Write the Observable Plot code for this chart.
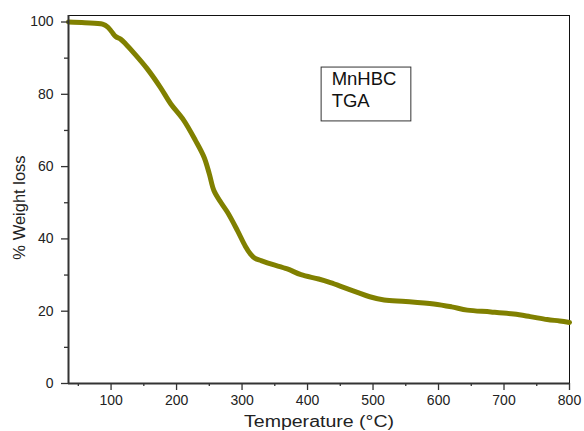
<!DOCTYPE html>
<html>
<head>
<meta charset="utf-8">
<script src="https://cdn.jsdelivr.net/npm/d3@7"></script>
<script src="https://cdn.jsdelivr.net/npm/@observablehq/plot@0.6"></script>
<style>
  html, body { margin: 0; padding: 0; background: #fff; }
  #chart svg { display: block; font-family: "Liberation Sans", Arial, sans-serif; }
</style>
</head>
<body>
<div id="chart"></div>
<script>
// Temperature (°C) and % weight remaining
const temperature = [35, 60, 87, 95, 101, 107, 115, 122, 135, 155, 175, 191, 211, 229, 242, 250, 257, 268, 278, 293, 305, 313, 320, 329, 345, 369, 390, 417, 435, 455, 476, 495, 517, 550, 593, 620, 644, 680, 715, 740, 766, 785, 800];
const weight      = [100, 99.8, 99.4, 98.6, 97.3, 96.0, 95.2, 94.0, 91.4, 87.1, 82.0, 77.4, 72.8, 67.2, 62.6, 58.0, 53.4, 50.0, 47.3, 42.3, 38.0, 35.8, 34.6, 34.0, 33.0, 31.7, 30.1, 28.9, 27.9, 26.6, 25.2, 24.0, 23.1, 22.7, 22.0, 21.2, 20.3, 19.8, 19.2, 18.5, 17.7, 17.3, 16.9];

const xMajorTicks = [100, 200, 300, 400, 500, 600, 700, 800];
const xMinorTicks = [50, 150, 250, 350, 450, 550, 650, 750];
const yMajorTicks = [0, 20, 40, 60, 80, 100];
const yMinorTicks = [10, 30, 50, 70, 90];

const xLabel = "Temperature (°C)";
const yLabel = "% Weight loss";
const legendLines = ["MnHBC", "TGA"];
const legendBox = {x1: 421.5, x2: 558.5, y1: 72.5, y2: 87.4};
const legendTextX = 436.8;
const legendTextY = [84.2, 78.2];

const data = temperature.map((t, i) => ({t, w: weight[i]}));

const axisColor = "#333";
const chart = Plot.plot({
  width: 584,
  height: 431,
  marginLeft: 68,
  marginRight: 15,
  marginTop: 15,
  marginBottom: 48,
  style: {fontFamily: "'Liberation Sans', Arial, sans-serif", color: "#222", background: "#fff"},
  x: {domain: [35, 800]},
  y: {domain: [0, 101.8]},
  marks: [
    Plot.frame({stroke: "#111", strokeWidth: 1}),
    Plot.line(data, {x: "t", y: "w", stroke: "#808000", strokeWidth: 5, curve: "catmull-rom"}),
    Plot.axisX(xMajorTicks, {tickSize: 7, tickPadding: 5, fontSize: 14, stroke: axisColor, strokeWidth: 1.3, label: null}),
    Plot.axisX(xMinorTicks, {tickSize: 3, tickFormat: () => "", stroke: axisColor, strokeWidth: 1.3, label: null}),
    Plot.axisY(yMajorTicks, {tickSize: 7, tickPadding: 8, fontSize: 14, stroke: axisColor, strokeWidth: 1.3, label: null}),
    Plot.axisY(yMinorTicks, {tickSize: 4, tickFormat: () => "", stroke: axisColor, strokeWidth: 1.3, label: null}),
    Plot.ruleX([35], {stroke: axisColor, strokeWidth: 2}),
    Plot.ruleY([0], {stroke: axisColor, strokeWidth: 2}),
    Plot.text([xLabel], {frameAnchor: "bottom", dy: 43, fontSize: 16, fill: "#222", lineAnchor: "bottom", className: "xlab"}),
    Plot.text([yLabel], {frameAnchor: "left", textAnchor: "middle", dx: -49, dy: 8, rotate: -90, fontSize: 16.5, fill: "#222"}),
    Plot.rect([legendBox], {x1: "x1", x2: "x2", y1: "y1", y2: "y2", fill: "none", stroke: "#333", strokeWidth: 1}),
    Plot.text(legendLines, {x: () => legendTextX, y: (d, i) => legendTextY[i], text: d => d, textAnchor: "start", fontSize: 18.5, fill: "#111"})
  ]
});
// the reference's axis title is horizontally stretched
d3.select(chart).selectAll(".xlab text").attr("textLength", 150).attr("lengthAdjust", "spacingAndGlyphs");
document.getElementById("chart").appendChild(chart);
</script>
</body>
</html>
